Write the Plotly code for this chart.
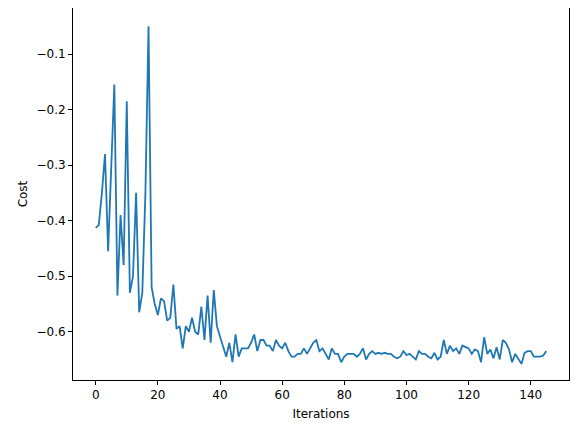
import plotly.graph_objects as go

cost = [
    -0.413, -0.408, -0.35, -0.28, -0.455, -0.32, -0.155, -0.535, -0.39, -0.48,
    -0.185, -0.53, -0.50, -0.35, -0.565, -0.53, -0.35, -0.05, -0.52, -0.55,
    -0.57, -0.54, -0.545, -0.58, -0.575, -0.515, -0.595, -0.59, -0.63, -0.59,
    -0.60, -0.575, -0.60, -0.605, -0.555, -0.615, -0.535, -0.62, -0.525, -0.59,
    -0.61, -0.63, -0.645, -0.62, -0.655, -0.605, -0.645, -0.63, -0.63, -0.63,
    -0.62, -0.605, -0.635, -0.615, -0.615, -0.625, -0.625, -0.635, -0.615, -0.625,
    -0.63, -0.62, -0.635, -0.645, -0.645, -0.64, -0.64, -0.63, -0.64, -0.63,
    -0.62, -0.615, -0.635, -0.63, -0.64, -0.65, -0.63, -0.64, -0.64, -0.655,
    -0.645, -0.64, -0.64, -0.64, -0.645, -0.64, -0.63, -0.65, -0.64, -0.635,
    -0.64, -0.638, -0.64, -0.638, -0.64, -0.64, -0.645, -0.648, -0.645, -0.635,
    -0.642, -0.64, -0.645, -0.65, -0.635, -0.64, -0.64, -0.645, -0.648, -0.638,
    -0.65, -0.645, -0.615, -0.64, -0.625, -0.635, -0.63, -0.64, -0.625, -0.628,
    -0.63, -0.64, -0.632, -0.635, -0.655, -0.61, -0.64, -0.632, -0.648, -0.628,
    -0.65, -0.615, -0.62, -0.632, -0.655, -0.64, -0.648, -0.658, -0.638, -0.635,
    -0.635, -0.645, -0.645, -0.645, -0.643, -0.635,
]
iters = list(range(len(cost)))

fig = go.Figure(go.Scatter(x=iters, y=cost, mode="lines",
                           line=dict(color="#1f77b4", width=1.8)))
axis = dict(showgrid=False, zeroline=False, showline=True, mirror=True,
            linecolor="black", linewidth=1, ticks="outside", ticklen=4,
            tickcolor="black", tickfont=dict(size=12, color="black"),
            automargin=False)
fig.update_xaxes(axis, title=dict(text="Iterations", font=dict(size=12, color="black"),
                                  standoff=8),
                 range=[-7.3, 152.3], tickvals=[0, 20, 40, 60, 80, 100, 120, 140])
fig.update_yaxes(axis, title=dict(text="Cost", font=dict(size=12, color="black"),
                                  standoff=6),
                 range=[-0.687, -0.017], tickvals=[-0.6, -0.5, -0.4, -0.3, -0.2, -0.1],
                 tickformat="\u2212.1f")
fig.update_layout(width=578, height=432, plot_bgcolor="white", paper_bgcolor="white",
                  font=dict(family="DejaVu Sans"), showlegend=False,
                  margin=dict(l=65, r=17, t=0, b=60))
fig.write_html("out.html")
